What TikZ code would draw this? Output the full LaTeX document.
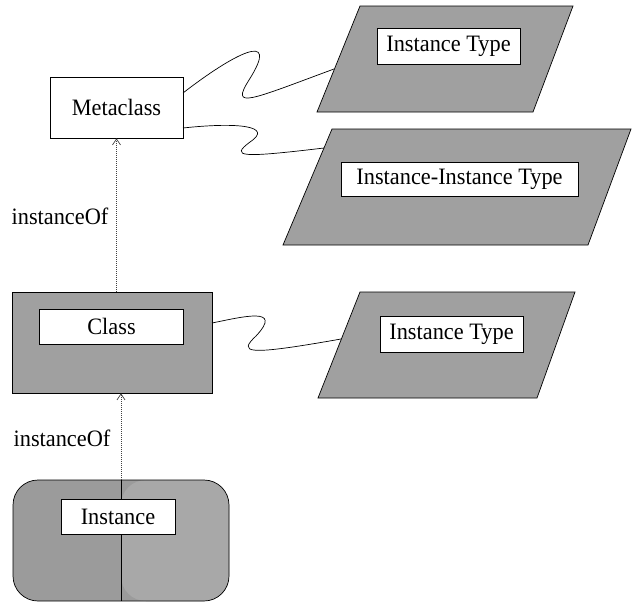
\documentclass[tikz,border=0pt]{standalone}
\usepackage{fontspec}
\setmainfont[FakeStretch=0.95]{Liberation Serif}
\usetikzlibrary{arrows.meta}
\definecolor{boxgray}{RGB}{160,160,160}
\definecolor{instdark}{RGB}{155,155,155}
\definecolor{instlight}{RGB}{168,168,168}
\begin{document}
\begin{tikzpicture}[x=1pt,y=-1pt,
  font=\fontsize{23.5}{27}\selectfont,
  wbox/.style={draw, fill=white, line width=0.7pt, inner sep=0pt},
  gshape/.style={draw, fill=boxgray, line width=0.7pt},
  wire/.style={line width=0.7pt},
  instof/.style={draw=black!75, dash pattern=on 1pt off 1pt, line width=0.9pt,
    -{Straight Barb[length=6pt,width=8pt,line width=0.7pt]}},
  lbl/.style={inner sep=0pt}]
\useasboundingbox (0,0) rectangle (632,603);

% Metaclass
\node[wbox, minimum width=133pt, minimum height=61pt] (meta) at (116.5,107.5) {Metaclass};

% Parallelogram 1
\draw[gshape] (360,6) -- (573,6) -- (533,112) -- (317,112) -- cycle;
\node[wbox, minimum width=143pt, minimum height=36pt] (it1) at (448.5,46) {Instance Type};

% Parallelogram 2
\draw[gshape] (332,129) -- (631,129) -- (588,245) -- (283,245) -- cycle;
\node[wbox, minimum width=237pt, minimum height=34pt] (iit) at (459.5,179) {Instance-Instance Type};

% Class
\node[gshape, minimum width=200pt, minimum height=101pt] (class) at (112,342.5) {};
\node[wbox, minimum width=144pt, minimum height=35pt] (classlbl) at (111.5,326.5) {Class};

% Parallelogram 3
\draw[gshape] (360,292) -- (575,292) -- (537,398) -- (318,398) -- cycle;
\node[wbox, minimum width=143pt, minimum height=36pt] (it3) at (451.5,334) {Instance Type};

% Instance
\node[draw, line width=0.7pt, fill=instdark, rounded corners=25pt,
  minimum width=216pt, minimum height=121pt,
  path picture={
    \fill[instlight] (path picture bounding box.north) rectangle (path picture bounding box.south east);
    \draw[line width=0.7pt] (path picture bounding box.north) -- (path picture bounding box.south);
  }] (inst) at (121,540.5) {};
\node[wbox, minimum width=114pt, minimum height=35pt] (instlbl) at (118,516.5) {Instance};

% connector end points
\coordinate (m1) at (183,93);
\coordinate (m2) at (183,128);
\coordinate (c1) at (212,323);
\coordinate (p1w) at (334,69);
\coordinate (p2w) at (324,148);
\coordinate (p3w) at (341,339);

% wavy connectors
\draw[wire] (m1) .. controls (232,55) and (282,28) .. (249,80)
  .. controls (230,110) and (250,100) .. (p1w);
\draw[wire] (m2) .. controls (238,122) and (274,126) .. (250,142)
  .. controls (230,157) and (240,158) .. (p2w);
\draw[wire] (c1) .. controls (242,317) and (284,306) .. (256,336)
  .. controls (238,353) and (245,356) .. (p3w);

% instanceOf arrows
\draw[instof] (class.north -| meta.south) -- (meta.south);
\draw[instof] (inst.north) -- (inst.north |- class.south);
\node[lbl] (lab1) at (60,216) {instanceOf};
\node[lbl] (lab2) at (62,438) {instanceOf};
\end{tikzpicture}
\end{document}
